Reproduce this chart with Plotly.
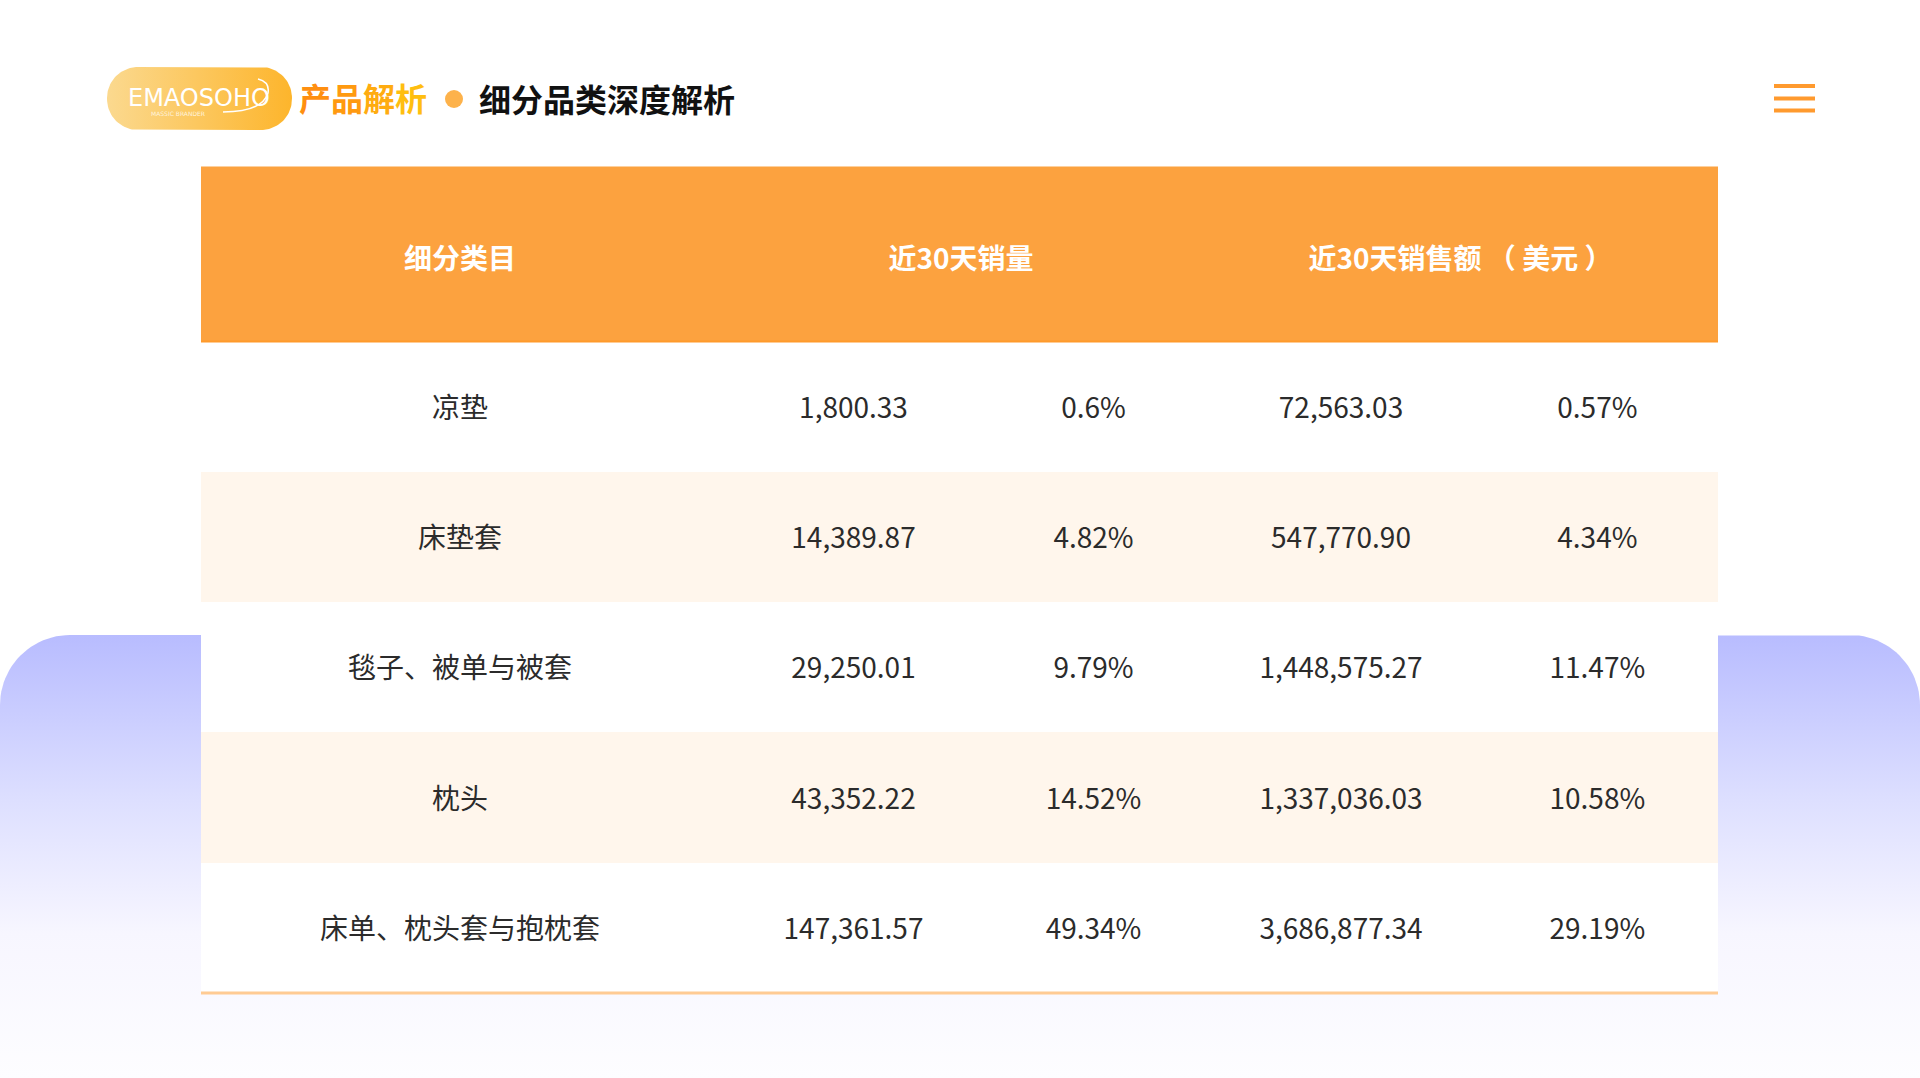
import math
import plotly.graph_objects as go

W, H = 1920, 1078
CJK = "Noto Sans CJK SC"

# --- data ---
categories = ["凉垫", "床垫套", "毯子、被单与被套", "枕头", "床单、枕头套与抱枕套"]
sales_qty = ["1,800.33", "14,389.87", "29,250.01", "43,352.22", "147,361.57"]
qty_share = ["0.6%", "4.82%", "9.79%", "14.52%", "49.34%"]
sales_usd = ["72,563.03", "547,770.90", "1,448,575.27", "1,337,036.03", "3,686,877.34"]
usd_share = ["0.57%", "4.34%", "11.47%", "10.58%", "29.19%"]
header_labels = ["细分类目", "近30天销量", "近30天销售额 （ 美元 ）"]

TABLE_L, TABLE_R = 201, 1718
HEAD_TOP, HEAD_BOT, BODY_BOT = 166.5, 341.5, 993
ROW_H = (BODY_BOT - HEAD_BOT) / len(categories)
BODY_COLS = [518, 269, 211, 284, 235]
HEAD_COLS = [518, 484, 515]
HEAD_DROP = 26  # table text sits this far below the top of the orange box
SPACER = "&nbsp;<br>"  # plotly tables top-align text, this pushes it to mid row


def round_outline(x0, y0, x1, y1, r, top_only=False):
    # box outline as points, since fillgradient needs a scatter trace
    xs, ys = [], []
    arcs = [(x0 + r, y0 + r, 180), (x1 - r, y0 + r, 270)]
    if not top_only:
        arcs += [(x1 - r, y1 - r, 0), (x0 + r, y1 - r, 90)]
    for cx, cy, a0 in arcs:
        for i in range(25):
            a = math.radians(a0 + i * 90 / 24)
            xs.append(cx + r * math.cos(a))
            ys.append(cy + r * math.sin(a))
    if top_only:
        xs += [x1, x0]
        ys += [y1, y1]
    xs.append(xs[0])
    ys.append(ys[0])
    return xs, ys


fig = go.Figure()

# lilac panel behind the table
px, py = round_outline(0, 635, W, H, 70, top_only=True)
fig.add_trace(go.Scatter(
    x=px, y=py, mode="lines", fill="toself", line=dict(width=0), hoverinfo="skip", showlegend=False,
    fillgradient=dict(type="vertical", colorscale=[
        [0, "#FDFDFF"], [0.327, "#F7F6FF"], [0.628, "#DDDFFF"], [1, "#B8BCFF"],
    ]),
))

# logo pill
lx, ly = round_outline(107, 67, 292, 130, 31)
fig.add_trace(go.Scatter(
    x=lx, y=ly, mode="lines", fill="toself", line=dict(width=0), hoverinfo="skip", showlegend=False,
    fillgradient=dict(type="horizontal", colorscale=[[0, "#FBD98F"], [1, "#FDB52C"]]),
))

# header row, three merged columns (orange box is a shape)
fig.add_trace(go.Table(
    domain=dict(x=[TABLE_L / W, TABLE_R / W], y=[1 - HEAD_BOT / H, 1 - (HEAD_TOP + HEAD_DROP) / H]),
    columnwidth=HEAD_COLS,
    header=dict(values=[SPACER + t for t in header_labels], height=HEAD_BOT - HEAD_TOP - HEAD_DROP,
                fill_color="rgba(0,0,0,0)", line_width=0, align="center",
                font=dict(family=CJK, size=28, color="white", weight=700)),
))

# body rows: first row goes in the table header slot, otherwise plotly leaves an empty strip
row_fill = ["#FFFFFF", "#FFF6EC", "#FFFFFF", "#FFF6EC", "#FFFFFF"]
columns = [categories, sales_qty, qty_share, sales_usd, [v + "&nbsp;" for v in usd_share]]
body_font = dict(family=CJK, size=28, color="#2B2B2B")
fig.add_trace(go.Table(
    domain=dict(x=[TABLE_L / W, TABLE_R / W], y=[1 - BODY_BOT / H, 1 - HEAD_BOT / H]),
    columnwidth=BODY_COLS,
    header=dict(values=[SPACER + col[0] for col in columns], height=ROW_H,
                fill_color=row_fill[0], line_width=0, align="center", font=body_font),
    cells=dict(
        values=[[SPACER + v for v in col[1:]] for col in columns],
        height=ROW_H, fill_color=[row_fill[1:]] * 5, line_width=0, align="center", font=body_font,
    ),
))

shapes = [
    dict(type="rect", layer="below", x0=TABLE_L, x1=TABLE_R, y0=HEAD_TOP, y1=HEAD_BOT, fillcolor="#FCA23F", line_width=0),
    dict(type="line", x0=TABLE_L, x1=TABLE_R, y0=BODY_BOT, y1=BODY_BOT, line=dict(color="#FFCB94", width=3)),
    dict(type="line", x0=TABLE_L, x1=TABLE_R, y0=HEAD_BOT, y1=HEAD_BOT, line=dict(color="#FF9A2B", width=2)),
    dict(type="circle", x0=445, x1=463, y0=90, y1=108, fillcolor="#FDB24B", line_width=0),
    # swoosh round the last letters of the logo
    dict(type="path", path="M223,112 Q262,112 268,93 Q270,82 258,79", line=dict(color="white", width=1.5)),
]
for y in (86, 98.5, 110.5):
    shapes.append(dict(type="line", x0=1774, x1=1815, y0=y, y1=y, line=dict(color="#FF9A2E", width=4)))

# orange title runs darker to lighter, one colour per character
title_orange = "".join(
    f'<span style="color:{c}">{ch}</span>'
    for ch, c in zip("产品解析", ["#FF8F10", "#FF9A10", "#FFAC10", "#FFBE10"])
)
annos = [
    dict(x=297, y=96.5, text=title_orange, xanchor="left", font=dict(family=CJK, size=32, color="#FF9E17", weight=700)),
    dict(x=477, y=97.5, text="细分品类深度解析", xanchor="left", font=dict(family=CJK, size=32, color="#111111", weight=700)),
    dict(x=199, y=98, text="EMAOSOHO", xanchor="center", font=dict(family="DejaVu Sans", size=24, color="white")),
    dict(x=178, y=113, text="MASSIC BRANDER", xanchor="center", font=dict(family="DejaVu Sans", size=6, color="#FFF3DC")),
]
for a in annos:
    a.update(xref="x", yref="y", showarrow=False, yanchor="middle")

fig.update_layout(
    width=W, height=H, autosize=False,
    margin=dict(l=0, r=0, t=0, b=0),
    paper_bgcolor="white", plot_bgcolor="rgba(0,0,0,0)",
    showlegend=False,
    shapes=shapes, annotations=annos,
    xaxis=dict(range=[0, W], visible=False, fixedrange=True),
    yaxis=dict(range=[H, 0], visible=False, fixedrange=True),
)

fig.write_html("out.html", config={"displayModeBar": False}, post_script="document.body.style.margin='0';")
